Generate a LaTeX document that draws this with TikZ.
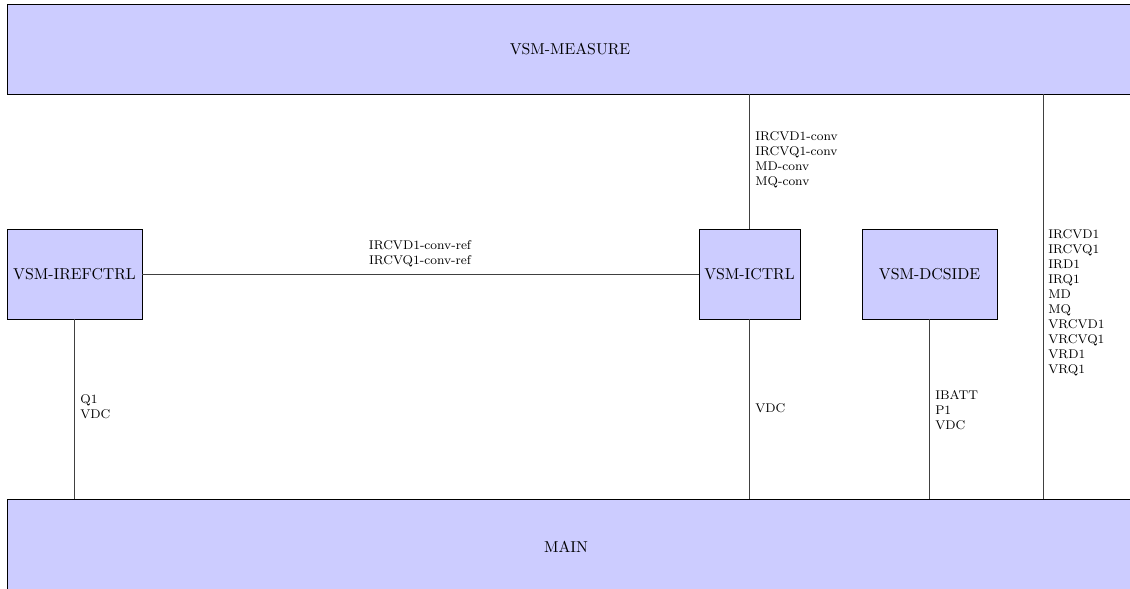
\documentclass[tikz,border=0pt]{standalone}
\begin{document}
\begin{tikzpicture}[x=0.633pt,y=-0.633pt,
  blk/.style={draw=black, fill={rgb,255:red,204;green,204;blue,255}, line width=0.5pt, inner sep=0pt, align=center},
  lbl/.style={font=\footnotesize, align=left, inner sep=0pt, anchor=north west},
  conn/.style={draw=black!75, line width=0.4pt}]
\useasboundingbox (0,0) rectangle (1130,589);
\clip (0,0) rectangle (1130,589);
\node[blk, minimum width=723.5pt, minimum height=57pt] (measure) at (578.5,49) {};
\node (measuretext) at (570,49) {VSM-MEASURE};
\node[blk, minimum width=723.5pt, minimum height=76pt] (main) at (578.5,559) {};
\node (maintext) at (566,547) {MAIN};
\node[blk, minimum width=85.5pt, minimum height=57pt] (iref) at (74.5,274) {VSM-IREFCTRL};
\node[blk, minimum width=64pt, minimum height=57pt] (ictrl) at (749.5,274) {VSM-ICTRL};
\node[blk, minimum width=85.5pt, minimum height=57pt] (dcside) at (929.5,274) {VSM-DCSIDE};
\coordinate (rx) at (1043,300);
\draw[conn] (iref.east) -- (ictrl.west);
\draw[conn] (ictrl.north) -- (measure.south -| ictrl.north);
\draw[conn] (ictrl.south) -- (main.north -| ictrl.south);
\draw[conn] (iref.south) -- (main.north -| iref.south);
\draw[conn] (dcside.south) -- (main.north -| dcside.south);
\draw[conn] (measure.south -| rx) -- (main.north -| rx);
\node[font=\footnotesize, align=center, inner sep=0pt, anchor=south] (l1) at (420,267) {IRCVD1-conv-ref\\IRCVQ1-conv-ref};
\node[lbl] (l2) at (755,131) {IRCVD1-conv\\IRCVQ1-conv\\MD-conv\\MQ-conv};
\node[lbl] (l3) at (755,403) {VDC};
\node[lbl] (l4) at (80,394) {Q1\\VDC};
\node[lbl] (l5) at (935,390) {IBATT\\P1\\VDC};
\node[lbl] (l6) at (1048,229) {IRCVD1\\IRCVQ1\\IRD1\\IRQ1\\MD\\MQ\\VRCVD1\\VRCVQ1\\VRD1\\VRQ1};
\end{tikzpicture}
\end{document}
